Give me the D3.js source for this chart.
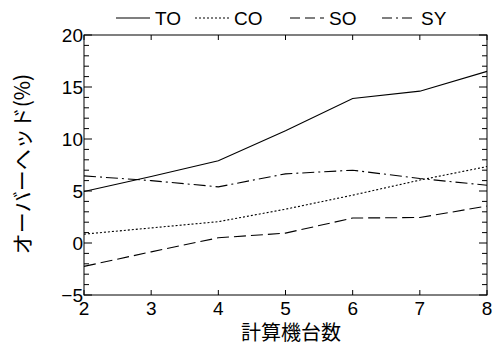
<!DOCTYPE html>
<html>
<head>
<meta charset="utf-8">
<script src="https://cdn.jsdelivr.net/npm/d3@7"></script>
<style>
  body { margin: 0; background: #fff; }
  text { font-family: "Liberation Sans", Arial, sans-serif; fill: #000; }
</style>
</head>
<body>
<svg id="chart" width="498" height="346"></svg>
<script>
const machines = [2, 3, 4, 5, 6, 7, 8];
const seriesNames = ['TO', 'CO', 'SO', 'SY'];
const toVals = [4.95, 6.4, 7.9, 10.8, 13.9, 14.6, 16.5];
const coVals = [0.85, 1.45, 2.05, 3.25, 4.6, 6.05, 7.35];
const soVals = [-2.25, -0.85, 0.5, 0.95, 2.4, 2.45, 3.55];
const syVals = [6.45, 6.0, 5.4, 6.65, 7.0, 6.2, 5.55];
const xTicks = [2, 3, 4, 5, 6, 7, 8];
const yTicks = [-5, 0, 5, 10, 15, 20];

const dashes = ['none', '2,2', '12,5', '12,4,2,4'];
const values = [toVals, coVals, soVals, syVals];

const svg = d3.select('#chart');
const margin = {left: 84, top: 35, right: 11, bottom: 51};
const width = 498 - margin.left - margin.right;
const height = 346 - margin.top - margin.bottom;

const x = d3.scaleLinear().domain([2, 8]).range([0, width]);
const y = d3.scaleLinear().domain([-5, 20]).range([height, 0]);

const g = svg.append('g').attr('transform', 'translate(' + margin.left + ',' + margin.top + ')');

// minor ticks every 1 on y (inside, both sides)
const minor = d3.range(-5, 21, 1);
g.selectAll('.ml').data(minor).enter().append('line')
  .attr('x1', 0).attr('x2', d => d % 5 === 0 ? 8 : 5)
  .attr('y1', d => y(d)).attr('y2', d => y(d))
  .attr('stroke', '#000').attr('stroke-width', 1);
g.selectAll('.mr').data(minor).enter().append('line')
  .attr('x1', width).attr('x2', d => width - (d % 5 === 0 ? 8 : 5))
  .attr('y1', d => y(d)).attr('y2', d => y(d))
  .attr('stroke', '#000').attr('stroke-width', 1);

// x ticks inside top and bottom
g.selectAll('.xb').data(xTicks).enter().append('line')
  .attr('x1', d => x(d)).attr('x2', d => x(d))
  .attr('y1', height).attr('y2', height - 5)
  .attr('stroke', '#000');
g.selectAll('.xt').data(xTicks).enter().append('line')
  .attr('x1', d => x(d)).attr('x2', d => x(d))
  .attr('y1', 0).attr('y2', 5)
  .attr('stroke', '#000');

// frame
g.append('rect').attr('width', width).attr('height', height)
  .attr('fill', 'none').attr('stroke', '#000').attr('stroke-width', 1);

// tick labels
g.selectAll('.xl').data(xTicks).enter().append('text')
  .attr('x', d => x(d)).attr('y', height + 20)
  .attr('text-anchor', 'middle').style('font-size', '19px')
  .text(d => d);
g.selectAll('.yl').data(yTicks).enter().append('text')
  .attr('x', -1).attr('y', d => y(d) + 7)
  .attr('text-anchor', 'end').style('font-size', '19px')
  .text(d => d < 0 ? '\u2212' + Math.abs(d) : d);

// lines
const line = d3.line().x((d, i) => x(machines[i])).y(d => y(d));
values.forEach((vals, k) => {
  g.append('path').datum(vals)
    .attr('d', line)
    .attr('fill', 'none')
    .attr('stroke', '#000')
    .attr('stroke-width', 1.1)
    .attr('stroke-dasharray', dashes[k]);
});

// axis titles
svg.append('text')
  .attr('x', 291).attr('y', 340)
  .attr('text-anchor', 'middle').style('font-size', '20px')
  .style('font-family', '"Noto Sans CJK JP", sans-serif')
  .text('計算機台数');
svg.append('text')
  .attr('transform', 'translate(30,' + (margin.top + height / 2 - 1) + ') rotate(-90)')
  .attr('text-anchor', 'middle').style('font-size', '21px')
  .style('font-family', '"Noto Sans CJK JP", sans-serif')
  .text('オーバーヘッド(%)');

// legend
const legX = [116, 195, 290, 382];
const leg = svg.append('g');
seriesNames.forEach((name, k) => {
  leg.append('line')
    .attr('x1', legX[k]).attr('x2', legX[k] + 34)
    .attr('y1', 18).attr('y2', 18)
    .attr('stroke', '#000').attr('stroke-width', 1.1)
    .attr('stroke-dasharray', k === 2 ? '10,5' : (k === 3 ? '10,4,2,4' : dashes[k]));
  leg.append('text')
    .attr('x', legX[k] + 39).attr('y', 25)
    .style('font-size', '19px')
    .text(name);
});
</script>
</body>
</html>
